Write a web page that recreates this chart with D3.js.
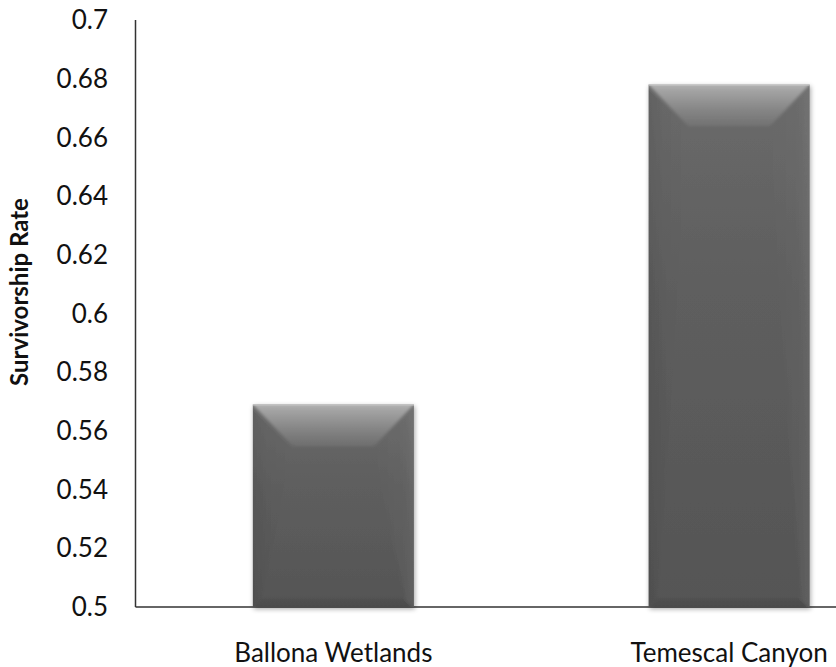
<!DOCTYPE html>
<html><head><meta charset="utf-8">
<script src="https://cdn.jsdelivr.net/npm/d3@7"></script>
<style>body{margin:0;background:#fff}svg{display:block}</style>
</head><body>
<svg id="c" width="836" height="667"></svg>
<script>
const categories = ["Ballona Wetlands", "Temescal Canyon"];
const values = [0.569, 0.678];
const tickValues = [0.5, 0.52, 0.54, 0.56, 0.58, 0.6, 0.62, 0.64, 0.66, 0.68, 0.7];
const tickLabels = ["0.5","0.52","0.54","0.56","0.58","0.6","0.62","0.64","0.66","0.68","0.7"];
const yTitle = "Survivorship Rate";

const svg = d3.select("#c");
const font = "Lato, 'Open Sans', sans-serif";
const y = d3.scaleLinear().domain([0.5, 0.7]).range([607, 20]);
const x = d3.scaleBand().domain(categories).range([135.5, 927]).paddingInner(0.593).paddingOuter(0.2965);

const defs = svg.append("defs");
function grad(id, x2, y2, stops) {
  const g = defs.append("linearGradient").attr("id", id).attr("x1",0).attr("y1",0).attr("x2",x2).attr("y2",y2);
  stops.forEach(s => g.append("stop").attr("offset", s[0]).attr("stop-color", s[1][0]).attr("stop-opacity", s[1][1]));
}
grad("gTop", 0, 1, [["0%",["#fff",0.55]],["15%",["#fff",0.4]],["60%",["#fff",0.2]],["100%",["#fff",0.06]]]);
grad("gL", 1, 0, [["0%",["#000",0.08]],["40%",["#000",0.02]],["100%",["#000",0]]]);
grad("gR", 1, 0, [["0%",["#fff",0]],["70%",["#fff",0.02]],["100%",["#fff",0.07]]]);
grad("gB", 0, 1, [["0%",["#000",0.06]],["100%",["#000",0.12]]]);
grad("gBody", 0, 1, [["0%",["#6a6a6a",1]],["40%",["#5e5e5e",1]],["100%",["#555",1]]]);
const blur = defs.append("filter").attr("id","soft"); blur.append("feGaussianBlur").attr("stdDeviation",1.5);
const sh = defs.append("filter").attr("id","sh").attr("x","-10%").attr("y","-10%").attr("width","130%").attr("height","130%");
sh.append("feGaussianBlur").attr("in","SourceAlpha").attr("stdDeviation",2.5).attr("result","b");
sh.append("feOffset").attr("in","b").attr("dx",1).attr("dy",2).attr("result","o");
sh.append("feComponentTransfer").attr("in","o").attr("result","o2").append("feFuncA").attr("type","linear").attr("slope",0.35);
const m = sh.append("feMerge"); m.append("feMergeNode").attr("in","o2"); m.append("feMergeNode").attr("in","SourceGraphic");

// axes
svg.append("line").attr("x1",135.5).attr("x2",836).attr("y1",y(0.5)).attr("y2",y(0.5)).attr("stroke","#333").attr("stroke-width",1.5);
svg.append("line").attr("x1",135.5).attr("x2",135.5).attr("y1",y(0.7)).attr("y2",y(0.5)).attr("stroke","#333").attr("stroke-width",1.5);

// bars
const bars = svg.append("g").selectAll("g").data(categories).join("g").attr("filter","url(#sh)");
bars.each(function(c, i) {
  const g = d3.select(this);
  const x0 = x(c), x1 = x(c) + x.bandwidth(), y0 = y(values[i]), y1 = y(0.5);
  const b = 42, s = 40, bb = 9;
  const pts = a => a.map(p => p.join(",")).join(" ");
  const clipId = "clip" + i;
  defs.append("clipPath").attr("id", clipId).append("rect").attr("x",x0).attr("y",y0).attr("width",x1-x0).attr("height",y1-y0);
  g.append("rect").attr("x",x0).attr("y",y0).attr("width",x1-x0).attr("height",y1-y0).attr("fill","url(#gBody)");
  const inner = g.append("g").attr("clip-path",`url(#${clipId})`).append("g").attr("filter","url(#soft)");
  inner.append("polygon").attr("points",pts([[x0-2,y0],[x0+s,y0+b],[x0+bb,y1-bb],[x0-2,y1+2]])).attr("fill","url(#gL)");
  inner.append("polygon").attr("points",pts([[x1+2,y0],[x1-s,y0+b],[x1-bb,y1-bb],[x1+2,y1+2]])).attr("fill","url(#gR)");
  inner.append("polygon").attr("points",pts([[x0,y1+2],[x0+bb,y1-bb],[x1-bb,y1-bb],[x1,y1+2]])).attr("fill","url(#gB)");
  inner.append("polygon").attr("points",pts([[x0-2,y0-2],[x1+2,y0-2],[x1-s,y0+b],[x0+s,y0+b]])).attr("fill","url(#gTop)");
  g.append("line").attr("x1",x0).attr("x2",x1).attr("y1",y0+0.5).attr("y2",y0+0.5).attr("stroke","#c8c8c8").attr("stroke-width",1);
});

// tick labels
svg.append("g").selectAll("text").data(tickValues).join("text")
  .attr("x",108).attr("y",d=>y(d)).attr("dy","0.35em").attr("text-anchor","end")
  .attr("font-family",font).attr("font-size",26).attr("fill","#111")
  .text((d,i)=>tickLabels[i]);

// category labels
svg.append("g").selectAll("text").data(categories).join("text")
  .attr("x",d=>x(d)+x.bandwidth()/2).attr("y",662).attr("text-anchor","middle")
  .attr("font-family",font).attr("font-size",26).attr("fill","#111")
  .text(d=>d);

// y title
svg.append("text").attr("transform","translate(28,292) rotate(-90)").attr("text-anchor","middle")
  .attr("font-family",font).attr("font-size",24).attr("font-weight","bold").attr("fill","#111")
  .text(yTitle);
</script>
</body></html>
